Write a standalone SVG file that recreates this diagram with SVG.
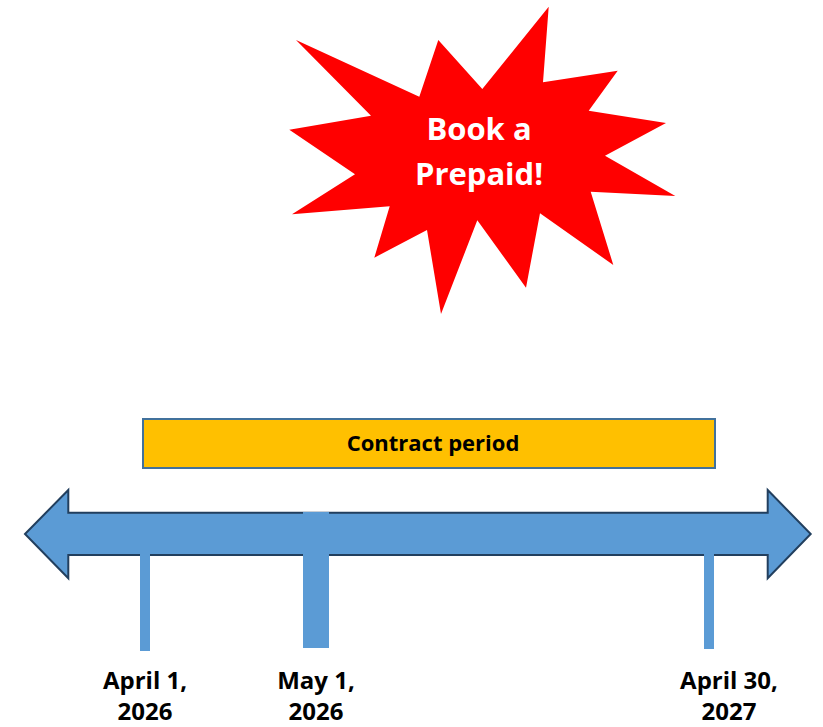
<svg xmlns="http://www.w3.org/2000/svg" width="823" height="727" viewBox="0 0 823 727">
<style>
.lbl{font-family:"Open Sans","Liberation Sans",sans-serif;font-weight:bold;text-anchor:middle;fill:#000}
.tick{fill:#5B9BD5}
</style>
<rect width="823" height="727" fill="#fff"/>
<g id="starburst">
<polygon fill="#FF0000" points="296,40 419.3,96.7 438.3,40 482.3,89 548.7,6.7 543,82.3 617.7,70.7 588.7,110.7 666,123 605,155.7 675.3,196 590.7,191.7 613.3,265 540,213.3 526,287.7 477.3,220.3 441,314 427,230 374.3,257.7 389.7,206.3 292,214.3 355,174.3 289.3,129.7 371,115.7"/>
<text x="479" y="140" font-family="'Open Sans','Liberation Sans',sans-serif" font-weight="bold" font-size="31" fill="#fff" text-anchor="middle">Book a</text>
<text x="479" y="185" font-family="'Open Sans','Liberation Sans',sans-serif" font-weight="bold" font-size="31" fill="#fff" text-anchor="middle">Prepaid!</text>
</g>
<g id="contract-period">
<rect x="143" y="419" width="572" height="49" fill="#FFC000" stroke="#41719C" stroke-width="2"/>
<text class="lbl" x="433" y="451" font-size="22">Contract period</text>
</g>
<g id="timeline">
<polygon fill="#5B9BD5" stroke="#223F5E" stroke-width="2" stroke-linejoin="miter" points="25,534 68.3,490 68.3,512.7 767.7,512.7 767.7,490 810.7,534 767.7,578.3 767.7,555 68.3,555 68.3,578.3"/>
</g>
<g id="connectors">
<rect class="tick" x="140" y="554" width="10" height="97"/>
<rect class="tick" x="303" y="512" width="26" height="136"/>
<rect class="tick" x="704" y="514" width="10" height="135"/>
</g>
<g id="label-april1">
<text class="lbl" font-size="24"><tspan x="145" y="689">April 1,</tspan><tspan x="145" y="720">2026</tspan></text>
</g>
<g id="label-may1">
<text class="lbl" font-size="24"><tspan x="316" y="689">May 1,</tspan><tspan x="316" y="720">2026</tspan></text>
</g>
<g id="label-april30">
<text class="lbl" font-size="24"><tspan x="729" y="689">April 30,</tspan><tspan x="729" y="720">2027</tspan></text>
</g>
</svg>
